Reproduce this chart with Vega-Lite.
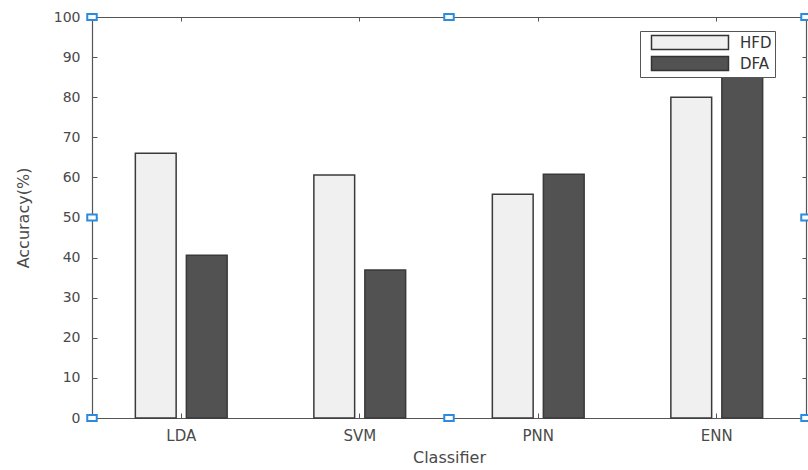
{
  "$schema": "https://vega.github.io/schema/vega-lite/v6.json",
  "width": 714,
  "height": 401,
  "autosize": {"type": "none"},
  "padding": {"left": 92, "top": 17, "right": 2, "bottom": 52},
  "background": "white",
  "config": {
    "view": {"stroke": null},
    "font": "DejaVu Sans",
    "axis": {
      "domainColor": "#555555",
      "tickColor": "#555555",
      "labelColor": "#4a4a4a",
      "titleColor": "#4a4a4a",
      "labelFontSize": 14,
      "titleFontSize": 16,
      "titleFontWeight": "normal",
      "grid": false
    }
  },
  "datasets": {
    "acc": [
      {"classifier": "LDA", "feature": "HFD", "accuracy": 66.0},
      {"classifier": "LDA", "feature": "DFA", "accuracy": 40.6},
      {"classifier": "SVM", "feature": "HFD", "accuracy": 60.6},
      {"classifier": "SVM", "feature": "DFA", "accuracy": 36.9},
      {"classifier": "PNN", "feature": "HFD", "accuracy": 55.8},
      {"classifier": "PNN", "feature": "DFA", "accuracy": 60.8},
      {"classifier": "ENN", "feature": "HFD", "accuracy": 80.0},
      {"classifier": "ENN", "feature": "DFA", "accuracy": 85.0}
    ],
    "handles": [
      {"hx": 0, "hy": 100}, {"hx": 0.5, "hy": 100}, {"hx": 1, "hy": 100},
      {"hx": 0, "hy": 50}, {"hx": 1, "hy": 50},
      {"hx": 0, "hy": 0}, {"hx": 0.5, "hy": 0}, {"hx": 1, "hy": 0}
    ]
  },
  "layer": [
    {
      "data": {"name": "acc"},
      "mark": {"type": "bar", "stroke": "#3a3a3a", "strokeWidth": 1.5},
      "encoding": {
        "x": {
          "field": "classifier", "type": "nominal", "sort": ["LDA", "SVM", "PNN", "ENN"],
          "scale": {"paddingInner": 0, "paddingOuter": 0},
          "axis": {"title": "Classifier", "labelAngle": 0, "labelFontSize": 15, "tickSize": -5, "labelPadding": 15, "titlePadding": 6, "domainWidth": 1.2}
        },
        "xOffset": {
          "field": "feature", "type": "nominal", "sort": ["HFD", "DFA"],
          "scale": {"paddingInner": 0.2, "paddingOuter": 0.85}
        },
        "y": {
          "field": "accuracy", "type": "quantitative",
          "scale": {"domain": [0, 100], "nice": false},
          "axis": {"title": "Accuracy(%)", "values": [0,10,20,30,40,50,60,70,80,90,100], "tickSize": -5, "labelPadding": 17, "titlePadding": 22, "domainWidth": 1.2}
        },
        "color": {
          "field": "feature", "type": "nominal",
          "scale": {"domain": ["HFD", "DFA"], "range": ["#f0f0f0", "#525252"]},
          "legend": {
            "title": null,
            "orient": "none",
            "legendX": 548,
            "legendY": 14,
            "symbolType": "M0,-0.9L10,-0.9L10,0.9L0,0.9Z",
            "symbolSize": 237,
            "symbolStrokeColor": "#333333",
            "symbolStrokeWidth": 1.5,
            "labelOffset": 80,
            "labelFontSize": 15,
            "labelColor": "#333333",
            "padding": 3,
            "rowPadding": 0,
            "strokeColor": "#555555",
            "fillColor": "white"
          }
        }
      }
    },
    {
      "data": {"name": "acc"},
      "mark": {"type": "bar", "opacity": 0},
      "encoding": {
        "x": {
          "field": "classifier", "type": "nominal", "sort": ["LDA", "SVM", "PNN", "ENN"],
          "scale": {"paddingInner": 0, "paddingOuter": 0},
          "axis": {"orient": "top", "title": null, "labels": false, "tickSize": -4, "domainWidth": 1.2}
        },
        "y": {
          "field": "accuracy", "type": "quantitative",
          "axis": {"orient": "right", "title": null, "labels": false, "values": [0,10,20,30,40,50,60,70,80,90,100], "tickSize": -4, "domainWidth": 1.2}
        }
      }
    },
    {
      "data": {"name": "handles"},
      "mark": {"type": "point", "shape": "M-1,-0.65L1,-0.65L1,0.65L-1,0.65Z", "size": 90, "filled": true, "fill": "white", "stroke": "#2a8be0", "strokeWidth": 2, "opacity": 1, "clip": false},
      "encoding": {
        "x": {"field": "hx", "type": "quantitative", "scale": {"domain": [0, 1], "nice": false, "zero": false}, "axis": null},
        "y": {"field": "hy", "type": "quantitative", "axis": null}
      }
    }
  ],
  "resolve": {"scale": {"x": "independent"}, "axis": {"x": "independent", "y": "independent"}}
}
